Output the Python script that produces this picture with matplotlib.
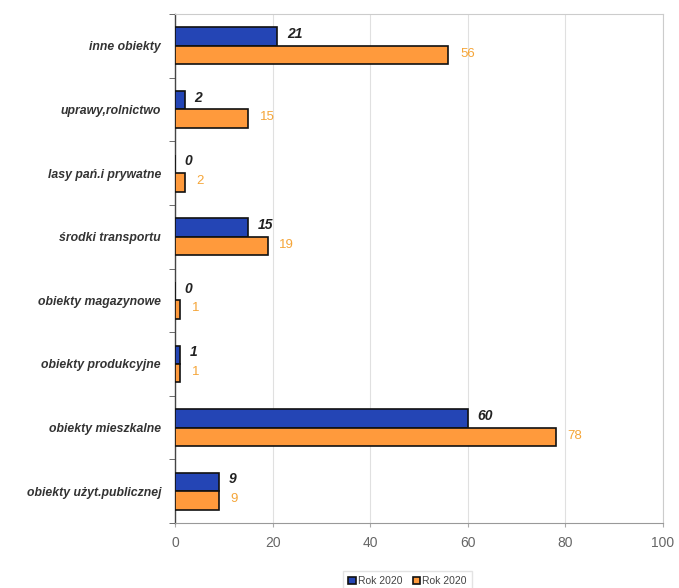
import numpy as np
import matplotlib
matplotlib.use('Agg')
import matplotlib.pyplot as plt

plt.rcParams['font.family'] = ['Liberation Sans', 'DejaVu Sans']

categories = ['inne obiekty', 'uprawy,rolnictwo', 'lasy pań.i prywatne', 'środki transportu',
              'obiekty magazynowe', 'obiekty produkcyjne', 'obiekty mieszkalne',
              'obiekty użyt.publicznej']
blue_vals = [21, 2, 0, 15, 0, 1, 60, 9]
orange_vals = [56, 15, 2, 19, 1, 1, 78, 9]
series_names = ['Rok 2020', 'Rok 2020']
xticks = [0, 20, 40, 60, 80, 100]

blue = '#2445b5'
orange = '#ff9a3c'
orange_txt = '#f5a538'

fig = plt.figure(figsize=(6.79, 5.88), dpi=100)
ax = fig.add_axes([0.2577, 0.1105, 0.7187, 0.8657])

n = len(categories)
pos = np.arange(n)  # top to bottom
h = 0.29
b1 = ax.barh(pos - h / 2, blue_vals, h, color=blue, edgecolor='#111111', linewidth=1.2,
             label=series_names[0], zorder=3)
b2 = ax.barh(pos + h / 2, orange_vals, h, color=orange, edgecolor='#111111', linewidth=1.2,
             label=series_names[1], zorder=3)

for i in range(n):
    ax.text(blue_vals[i] + 2.0, pos[i] - h / 2 - 0.04, str(blue_vals[i]), color='#222222',
            fontsize=10, fontweight='bold', fontstyle='italic', va='center', ha='left')
    ax.text(orange_vals[i] + 2.4, pos[i] + h / 2 - 0.02, str(orange_vals[i]), color=orange_txt,
            fontsize=9.5, va='center', ha='left')

ax.set_xlim(0, 100)
ax.set_ylim(n - 0.5, -0.5)
ax.set_xticks(xticks)
ax.set_xticklabels([str(t) for t in xticks], color='#666666', fontsize=10)
ax.tick_params(axis='x', length=3, color='#aaaaaa', pad=6)

ax.set_yticks(pos)
ax.set_yticklabels(categories, fontsize=8.8, fontstyle='italic', fontweight='bold', color='#333333')
ax.tick_params(axis='y', length=0, pad=10)
ax.set_yticks(np.arange(n + 1) - 0.5, minor=True)
ax.tick_params(axis='y', which='minor', length=4, color='#555555')

ax.grid(axis='x', color='#e0e0e0', linewidth=0.8, zorder=0)
for s in ['top', 'right']:
    ax.spines[s].set_color('#cccccc')
ax.spines['bottom'].set_color('#999999')
ax.spines['left'].set_color('#444444')
ax.spines['left'].set_linewidth(1.0)

leg = fig.legend(handles=[b1, b2], loc='center', bbox_to_anchor=(0.6, 0.012), ncol=2,
                 fontsize=7.5, frameon=True, handlelength=0.7, handleheight=0.7,
                 handletextpad=0.2, columnspacing=1.0, borderpad=0.5, fancybox=False)
leg.get_frame().set_edgecolor('#dddddd')
for t in leg.get_texts():
    t.set_color('#444444')

fig.savefig('out.png', dpi=100)
